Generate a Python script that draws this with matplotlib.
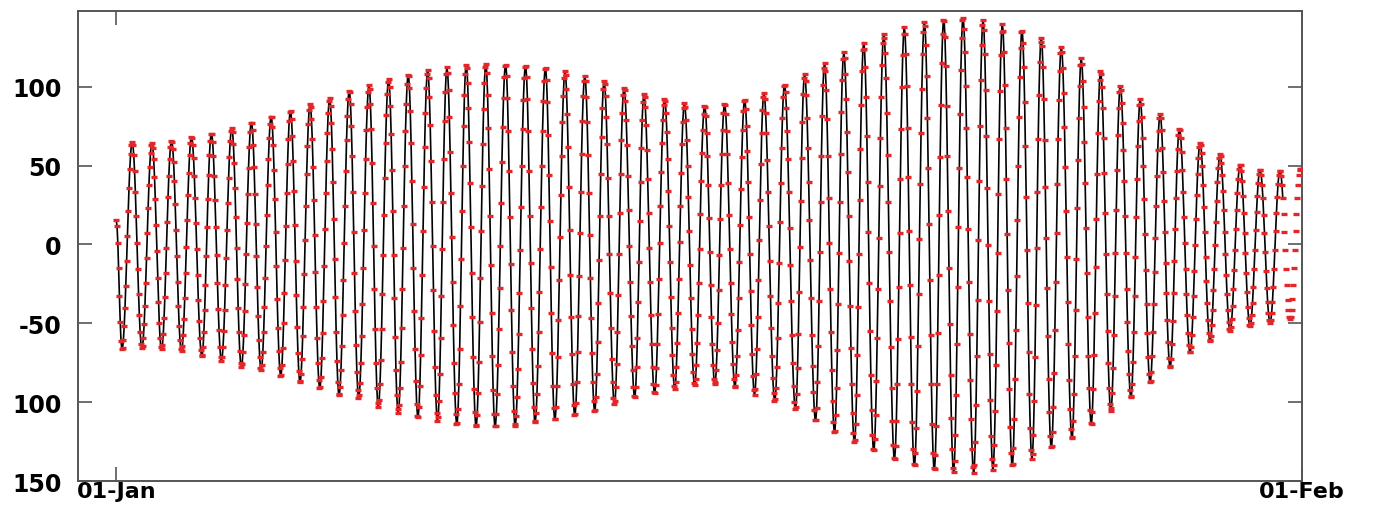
import matplotlib
matplotlib.use("Agg")
import matplotlib.pyplot as plt
import numpy as np

# high / low water times (hours after 01-Jan 00:00) and levels
# first entry is the opening sample, then alternating low, high, low, ...
extreme_hours = [
    0.0, 3.6, 10.0, 16.1, 22.4, 28.4, 34.7, 40.9, 47.2, 53.7, 59.7,
    66.0, 72.5, 78.5, 84.8, 90.9, 97.2, 103.2, 109.3, 115.3, 121.6,
    127.7, 133.9, 139.8, 146.2, 152.1, 158.6, 164.4, 170.9, 176.9, 183.2,
    189.3, 195.4, 201.6, 207.5, 213.7, 219.6, 225.8, 231.9, 237.7, 244.3,
    250.3, 256.8, 262.8, 269.3, 275.2, 281.6, 287.7, 294.0, 300.2, 306.1,
    312.6, 318.6, 325.3, 331.1, 337.8, 344.1, 350.4, 356.5, 362.9, 369.2,
    375.6, 381.7, 388.2, 394.3, 400.5, 406.4, 413.2, 419.3, 426.2, 431.9,
    438.8, 444.4, 450.7, 456.5, 463.2, 469.0, 475.3, 481.6, 488.3, 494.5,
    500.8, 507.1, 513.3, 519.2, 525.4, 531.3, 538.0, 543.9, 550.1, 556.0,
    562.2, 568.3, 574.6, 580.4, 586.7, 593.0, 599.7, 605.5, 611.8, 617.6,
    624.1, 630.0, 636.7, 642.5, 648.7, 655.0, 661.3, 667.1, 673.8, 680.1,
    686.3, 692.6, 698.9, 705.2, 711.4, 717.7, 724.0, 730.2, 736.5, 742.8,
]
extreme_levels = [
    15.4, -66.7, 65.0, -66.0, 64.6, -66.7, 66.0, -67.7, 68.4, -71.0, 70.5,
    -73.7, 74.0, -78.0, 77.7, -80.0, 81.5, -83.6, 85.0, -87.8, 89.0,
    -91.6, 92.7, -95.9, 97.8, -97.3, 101.0, -103.0, 104.8, -106.9, 108.0,
    -110.0, 110.5, -112.2, 112.2, -114.7, 114.1, -115.8, 114.7, -116.0, 114.5,
    -115.4, 113.7, -113.2, 112.2, -111.6, 110.0, -109.0, 107.0, -106.2, 103.7,
    -101.6, 99.5, -97.3, 95.3, -94.8, 92.5, -91.6, 89.5, -89.5, 88.3,
    -88.9, 89.3, -90.6, 92.0, -95.3, 95.9, -99.5, 101.6, -104.8, 108.0,
    -112.2, 115.0, -119.6, 121.7, -125.9, 128.0, -131.3, 133.4, -136.5, 137.6,
    -140.8, 141.2, -143.5, 143.3, -144.6, 144.0, -145.0, 142.5, -142.9, 139.7,
    -140.8, 136.1, -136.1, 131.3, -129.1, 125.2, -123.4, 117.9, -114.3, 110.0,
    -105.9, 100.5, -97.3, 92.0, -87.8, 82.6, -78.3, 73.5, -68.8, 64.6,
    -61.4, 57.2, -55.0, 50.8, -51.9, 47.6, -49.7, 47.0, -47.6, 47.6,
]

record_hours = 744       # record runs through to 01-Feb
samples_per_hour = 2     # half-hourly samples
line_end_hour = 732      # black record stops a little before the end

ytick_values = [-150, -100, -50, 0, 50, 100]
ytick_labels = ["150", "100", "-50", "0", "50", "100"]
xtick_days = [0, 31]
xtick_labels = ["01-Jan", "01-Feb"]


def sampled_levels(t_ext, v_ext, t):
    t_ext = np.asarray(t_ext)
    v_ext = np.asarray(v_ext)
    i = np.clip(np.searchsorted(t_ext, t, side="right") - 1, 0, len(t_ext) - 2)
    t0, t1 = t_ext[i], t_ext[i + 1]
    v0, v1 = v_ext[i], v_ext[i + 1]
    phase = np.clip((t - t0) / (t1 - t0), 0, 1)
    return 0.5 * (v0 + v1) + 0.5 * (v0 - v1) * np.cos(np.pi * phase)


t = np.arange(0, record_hours * samples_per_hour + 1) / samples_per_hour
level = sampled_levels(extreme_hours, extreme_levels, t)
days = t / 24.0
on_line = t <= line_end_hour

fig = plt.figure(figsize=(13.78, 5.10), dpi=100)
ax = fig.add_axes([0.0566, 0.0549, 0.8882, 0.9216])

ax.plot(days[on_line], level[on_line], color="black", lw=1.2, zorder=2)
ax.plot(days, level, ls="none", marker="_", ms=4, mew=2.4, color="#e3262a",
        zorder=3)

ax.set_xlim(-1, 31)
ax.set_ylim(-150, 148)
ax.set_xticks(xtick_days)
ax.set_xticklabels(xtick_labels)
ax.set_yticks(ytick_values)
ax.set_yticklabels(ytick_labels)

for s in ax.spines.values():
    s.set_color("#555555")
    s.set_linewidth(1.4)

ax.tick_params(direction="in", length=10, width=1.2, color="#555555",
               top=True, right=True)
ax.tick_params(axis="y", pad=12, labelsize=17)
ax.tick_params(axis="x", pad=0, labelsize=16)
for lab in ax.get_xticklabels() + ax.get_yticklabels():
    lab.set_fontfamily("DejaVu Sans")
    lab.set_fontweight("bold")

fig.savefig("out.png", dpi=100, facecolor="white")
